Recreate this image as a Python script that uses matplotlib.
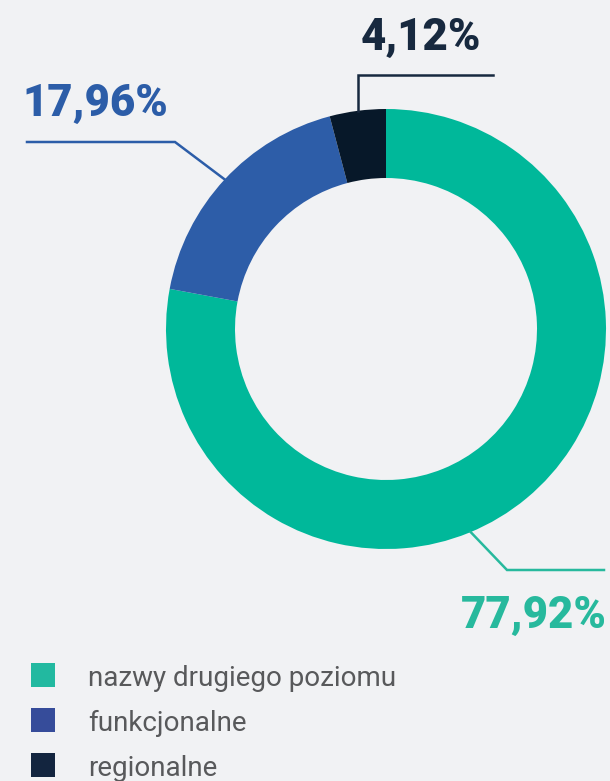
import numpy as np
import matplotlib
matplotlib.use("Agg")
import matplotlib.pyplot as plt
from matplotlib.patches import Rectangle

# ---- data ----
categories = ["nazwy drugiego poziomu", "funkcjonalne", "regionalne"]
values = [77.92, 17.96, 4.12]
value_labels = ["77,92%", "17,96%", "4,12%"]

ring_colors = ["#00B89A", "#2D5DA8", "#071829"]
label_colors = ["#27B99D", "#2C5DA8", "#17293F"]
legend_colors = ["#22B9A0", "#364C9A", "#13253F"]
BG = "#F1F2F4"

W, H = 610, 781
fig = plt.figure(figsize=(W / 100, H / 100), dpi=100, facecolor=BG)
ax = fig.add_axes([0, 0, 1, 1])
ax.set_facecolor(BG)

cx, cy, R, ring_w = 386, 329, 220, 69
# y axis is inverted (pixel coords), so screen-top is data angle -90 and screen-clockwise is data-counterclockwise
wedges, _ = ax.pie(values, colors=ring_colors, startangle=-90, counterclock=True,
                   center=(cx, cy), radius=R,
                   wedgeprops=dict(width=ring_w, linewidth=0))
ax.set_xlim(0, W)
ax.set_ylim(H, 0)
ax.set_aspect("equal")
ax.axis("off")

def anchor(idx, frac):
    # angle measured clockwise from top (screen)
    start = 360 * sum(values[:idx]) / sum(values)
    span = 360 * values[idx] / sum(values)
    a = np.deg2rad(start + frac * span)
    return cx + R * np.sin(a), cy - R * np.cos(a)

lw = 1.8
font_num = dict(family=["Roboto", "DejaVu Sans"], weight=900, fontsize=31.5)

# regionalne (dark)
x0, y0 = anchor(2, 0.5)
ax.plot([x0, x0, 493], [y0, 75, 75], color=label_colors[2], lw=lw, solid_joinstyle="miter")
ax.text(421, 50, value_labels[2], color=label_colors[2], ha="center", va="baseline", **font_num)

# funkcjonalne (blue)
x0, y0 = anchor(1, 0.5)
ax.plot([x0, 175, 27], [y0, 142, 142], color=label_colors[1], lw=lw, solid_joinstyle="miter")
ax.text(22, 116, value_labels[1], color=label_colors[1], ha="left", va="baseline", **font_num)

# nazwy drugiego poziomu (green)
x0, y0 = anchor(0, 0.561)
ax.plot([x0, 507, 604], [y0, 570, 570], color=label_colors[0], lw=lw, solid_joinstyle="miter")
ax.text(607, 628, value_labels[0], color=label_colors[0], ha="right", va="baseline", **font_num)

# legend
for i, (cat, col) in enumerate(zip(categories, legend_colors)):
    yc = 675 + 45 * i
    ax.add_patch(Rectangle((31, yc - 12), 24, 24, facecolor=col, edgecolor="none"))
    ax.text(88, yc, cat, color="#58595B", ha="left", va="center_baseline",
            family=["Roboto", "DejaVu Sans"], fontsize=20)

fig.savefig("out.png", dpi=100, facecolor=BG)
